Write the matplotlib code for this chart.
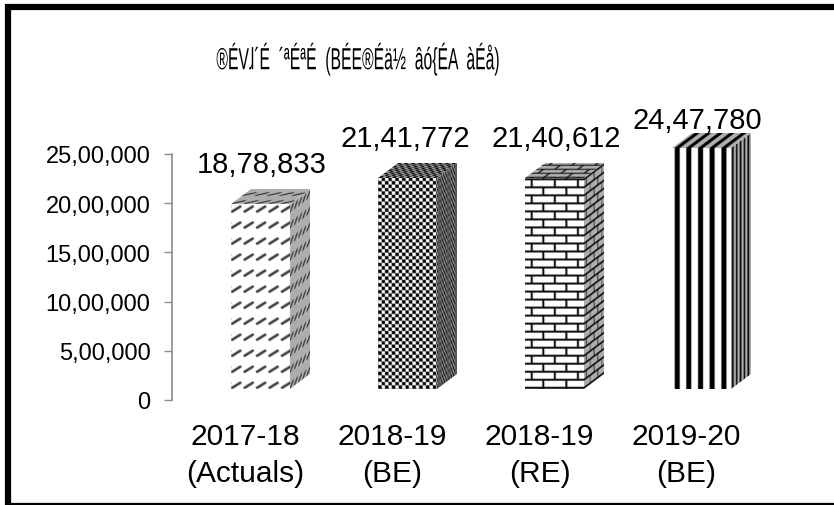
import numpy as np
import matplotlib
matplotlib.use('Agg')
import matplotlib.pyplot as plt
from matplotlib.patches import Rectangle
from matplotlib.patheffects import AbstractPathEffect
from matplotlib.transforms import Affine2D

categories = ['2017-18\n(Actuals)', '2018-19\n(BE)', '2018-19\n(RE)', '2019-20\n(BE)']
values = [1878833, 2141772, 2140612, 2447780]
value_labels = ['18,78,833', '21,41,772', '21,40,612', '24,47,780']
y_ticks = [0, 500000, 1000000, 1500000, 2000000, 2500000]
y_tick_labels = ['0', '5,00,000', '10,00,000', '15,00,000', '20,00,000', '25,00,000']
title = '®ÉVɺ´É  ´ªÉªÉ  (BÉE®Éä½  âó{ÉA  àÉå)'

W, H = 834, 506
plt.rcParams['font.family'] = ['Liberation Sans', 'DejaVu Sans']

SS = 4  # texture samples per pixel


class Squeeze(AbstractPathEffect):
    # narrow the glyphs around a fixed x, the title font is a condensed one
    def __init__(self, cx, sx):
        super().__init__()
        self.tr = Affine2D().translate(-cx, 0).scale(sx, 1).translate(cx, 0)

    def draw_path(self, renderer, gc, tpath, affine, rgbFace=None):
        renderer.draw_path(gc, tpath, affine + self.tr, rgbFace)


def grid(w, h):
    u, v = np.meshgrid((np.arange(int(w * SS)) + 0.5) / SS, (np.arange(int(h * SS)) + 0.5) / SS)
    return u, v


def blur(img):
    out = img.copy()
    for n in range(1, SS):
        out = out + np.roll(img, n, 0) + np.roll(img, n, 1)
    return out / (1 + 2 * (SS - 1))


def dashes(u, v):
    # short rising strokes, rows 16px apart
    pu = (u + 1) % 12.4
    pv = (v + 1) % 16
    t = np.clip(((pu - 2) * 8 + (pv - 2) * 5) / 89.0, 0, 1)
    d = np.hypot(pu - 2 - 8 * t, pv - 2 - 5 * t)
    return np.where(d < 1.3, 0.25, 1.0)


def checker(u, v):
    return np.where((np.floor(u / 3.4) + np.floor(v / 3.4)) % 2 < 1, 0.0, 1.0)


def bricks(u, v):
    row = np.floor(v / 8)
    pu = (u + 6 + 11.5 * (row % 2)) % 23
    return np.where((v % 8 < 2.0) | (pu < 2.0), 0.05, 1.0)


def stripes(u, v):
    return np.where((u - 2.5) % 11.6 < 5.0, 0.0, 1.0)


patterns = [dashes, checker, bricks, stripes]


def face(ax, pattern, origin, ex, ey, w, h, scale_u, scale_v, shade):
    # textured parallelogram, in display pixels
    u, v = grid(w, h)
    img = blur(pattern(u * scale_u, v * scale_v)) * shade
    tr = Affine2D.from_values(ex[0] / w, ex[1] / w, ey[0] / h, ey[1] / h, origin[0], origin[1])
    ax.imshow(img, cmap='gray', vmin=0, vmax=1, origin='lower', extent=(0, w, 0, h), aspect='auto',
              interpolation='antialiased', transform=tr, clip_on=False, zorder=2)


fig = plt.figure(figsize=(W / 100, H / 100), dpi=100)
ax = fig.add_axes([172 / W, 1 - 401 / H, 588 / W, 246 / H])
ax.set_xlim(-0.5, 3.5)
ax.set_ylim(0, 2500000)

# 3d look: front face sits up and right of the category slot
px_y = 2500000 / 246
base = 11 * px_y
shift = 15 / 147
bars = ax.bar(np.arange(4) + shift, values, width=0.4, bottom=base, color='none', linewidth=0, zorder=3)

depth = (20, 15)
for rect, pattern in zip(bars, patterns):
    (x0, y0), (x1, y1) = ax.transData.transform(rect.get_bbox().get_points())
    w, h = x1 - x0, y1 - y0
    face(ax, pattern, (x0, y0), (w, 0), (0, h), w, h, 1, 1, 1.0)
    # side face, squeezed
    face(ax, pattern, (x1, y0), depth, (0, h), depth[0], h, 3.0, 1, 0.68)
    # top face
    face(ax, pattern, (x0, y1), (w, 0), depth, w, depth[1], 1, 2.0, 0.68)

ax.set_xlim(-0.5, 3.5)
ax.set_ylim(0, 2500000)

for s in ['top', 'right', 'bottom']:
    ax.spines[s].set_visible(False)
ax.spines['left'].set_color('#8c8c8c')
ax.spines['left'].set_linewidth(1.2)
ax.set_yticks(y_ticks)
ax.set_yticklabels(y_tick_labels, fontsize=17)
ax.tick_params(axis='y', length=5.5, width=1.0, color='#8c8c8c', pad=10)
ax.set_xticks(range(4))
ax.set_xticklabels(categories, fontsize=21.5, linespacing=1.42)
ax.tick_params(axis='x', length=0, pad=16)

label_dx = [1, -2, 2, -4]
label_dy = [26, 26, 26, 14]
for i in range(4):
    ax.annotate(value_labels[i], (i + shift, values[i] + base), xytext=(label_dx[i] * 0.72, label_dy[i] * 0.72),
                textcoords='offset points', ha='center', va='bottom', fontsize=21, annotation_clip=False)

fig.text(358 / W, 1 - 60 / H, title, ha='center', va='center', fontsize=22,
         path_effects=[Squeeze(358, 0.515)])

# chart frame
fig.add_artist(Rectangle((8 / W, -1 / H), 900 / W, 499 / H, transform=fig.transFigure,
                         fill=False, edgecolor='black', linewidth=4.5))

fig.savefig('out.png', dpi=100)
